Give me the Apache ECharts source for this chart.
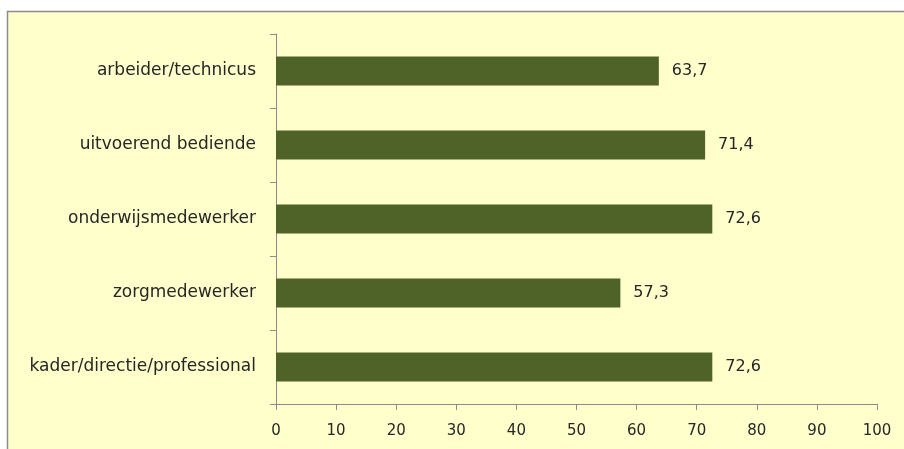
<!DOCTYPE html>
<html><head><meta charset="utf-8">
<script src="https://cdn.jsdelivr.net/npm/echarts@6/dist/echarts.min.js"></script>
<style>html,body{margin:0;padding:0;background:#fff}#c{width:904px;height:449px}</style>
</head><body><div id="c"></div>
<script>
const categories = ["arbeider/technicus", "uitvoerend bediende", "onderwijsmedewerker", "zorgmedewerker", "kader/directie/professional"];
const values = [63.7, 71.4, 72.6, 57.3, 72.6];
const xTicks = [0, 10, 20, 30, 40, 50, 60, 70, 80, 90, 100];

const chart = echarts.init(document.getElementById('c'), null, {renderer: 'canvas'});
const font = 'DejaVu Sans';
chart.setOption({
  animation: false,
  backgroundColor: '#ffffff',
  graphic: [{
    type: 'rect', z: -10, silent: true,
    shape: {x: 7.5, y: 11.5, width: 910, height: 450},
    style: {fill: '#FFFFCC', stroke: '#8c8c8c', lineWidth: 1.5}
  }],
  grid: {left: 276, top: 34, right: 27, bottom: 45, containLabel: false},
  xAxis: {
    type: 'value', min: xTicks[0], max: xTicks[xTicks.length - 1], interval: 10,
    axisLine: {show: true, lineStyle: {color: '#8c8c8c', width: 1}},
    axisTick: {show: true, length: 6, lineStyle: {color: '#8c8c8c'}},
    splitLine: {show: false},
    axisLabel: {color: '#262626', fontFamily: font, fontSize: 15, margin: 20}
  },
  yAxis: {
    type: 'category', data: categories, inverse: true,
    axisLine: {show: true, lineStyle: {color: '#8c8c8c', width: 1}},
    axisTick: {show: true, length: 6, alignWithLabel: false, lineStyle: {color: '#8c8c8c'}},
    axisLabel: {color: '#262626', fontFamily: font, fontSize: 17, margin: 20}
  },
  series: [{
    type: 'bar', data: values, barWidth: 29,
    itemStyle: {color: '#4F6228'},
    label: {show: true, position: 'right', distance: 13, color: '#262626', fontFamily: font, fontSize: 16,
      formatter: p => String(p.value).replace('.', ',')}
  }]
});
</script></body></html>
